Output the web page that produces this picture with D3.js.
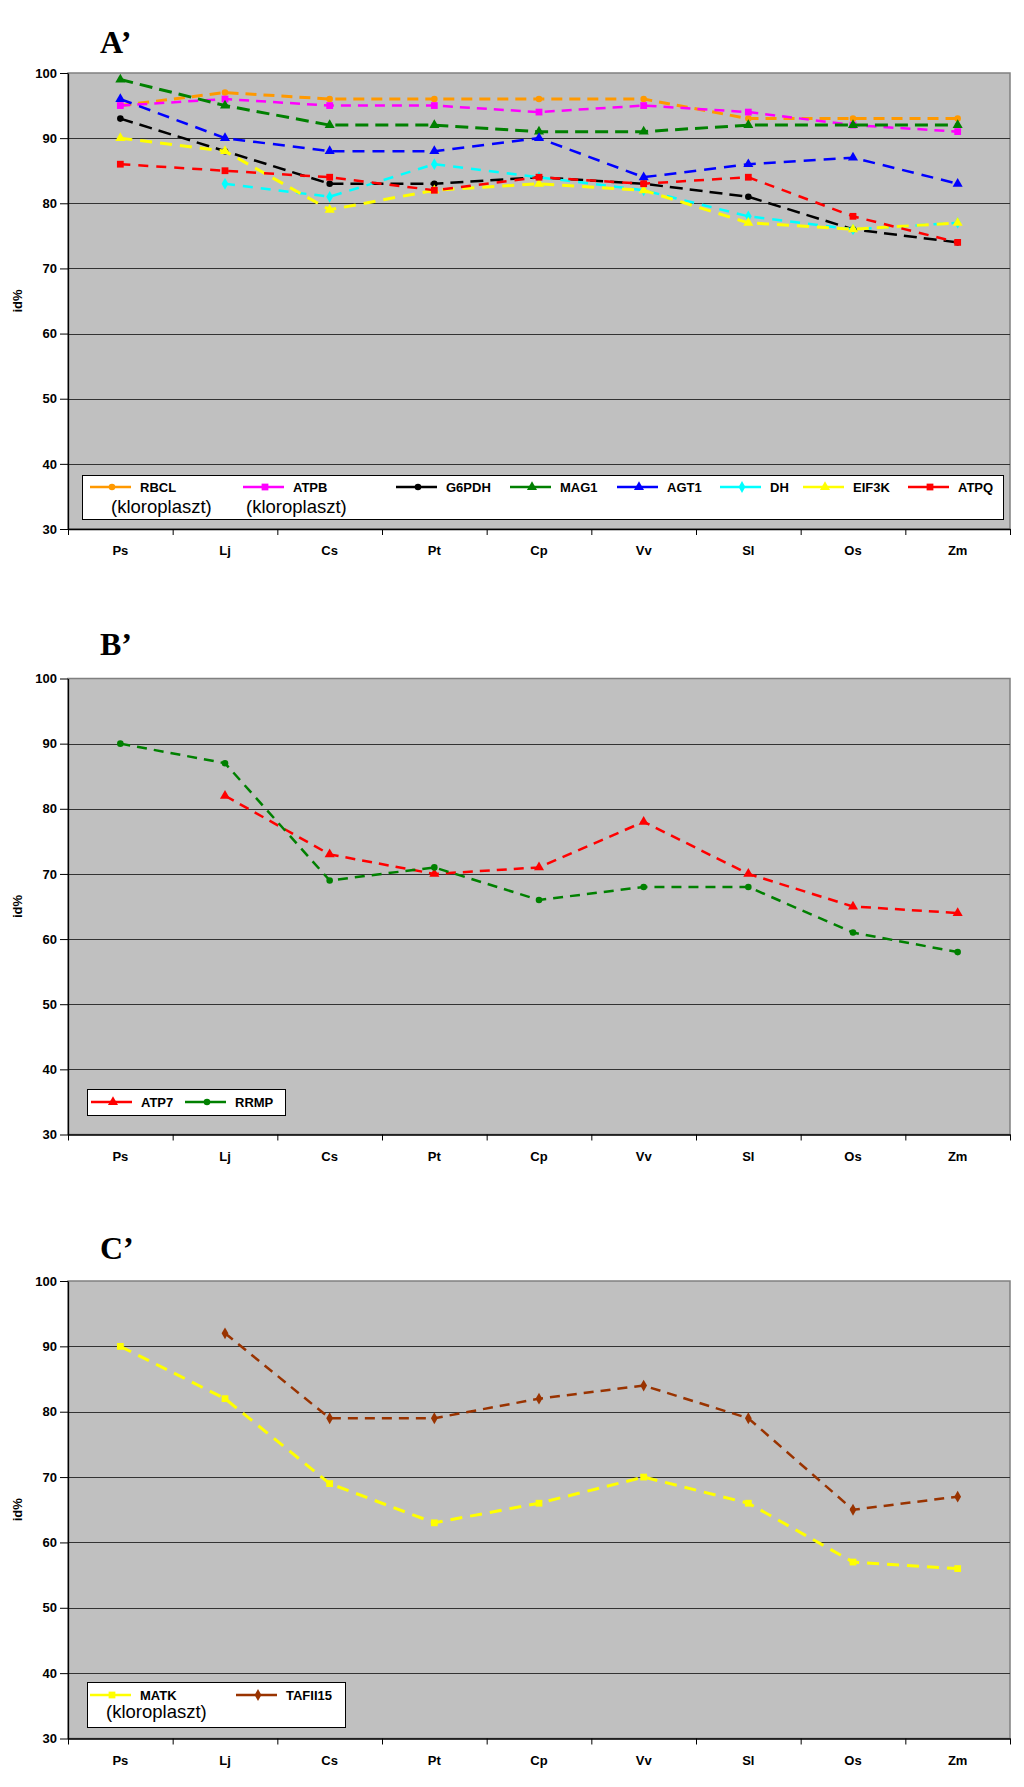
<!DOCTYPE html>
<html>
<head>
<meta charset="utf-8">
<script src="https://cdn.jsdelivr.net/npm/d3@7"></script>
<style>
  html, body { margin: 0; padding: 0; background: #fff; }
  svg { display: block; }
  text { font-family: "Liberation Sans", Arial, sans-serif; }
</style>
</head>
<body>
<svg id="chart" width="1024" height="1787"></svg>
<script>
// ---------------- DATA ----------------
const CATEGORIES = ["Ps", "Lj", "Cs", "Pt", "Cp", "Vv", "Sl", "Os", "Zm"];
const Y_TICKS = [30, 40, 50, 60, 70, 80, 90, 100];
const Y_LABEL = "id%";

// Panel A'
const A_NAMES = ["RBCL", "ATPB", "G6PDH", "MAG1", "AGT1", "DH", "EIF3K", "ATPQ"];
const A_SUBLABELS = ["(kloroplaszt)", "(kloroplaszt)", "", "", "", "", "", ""];
const A_RBCL  = [95, 97, 96, 96, 96, 96, 93, 93, 93];
const A_ATPB  = [95, 96, 95, 95, 94, 95, 94, 92, 91];
const A_G6PDH = [93, 88, 83, 83, 84, 83, 81, 76, 74];
const A_MAG1  = [99, 95, 92, 92, 91, 91, 92, 92, 92];
const A_AGT1  = [96, 90, 88, 88, 90, 84, 86, 87, 83];
const A_DH    = [null, 83, 81, 86, 84, 82, 78, 76, 77];
const A_EIF3K = [90, 88, 79, 82, 83, 82, 77, 76, 77];
const A_ATPQ  = [86, 85, 84, 82, 84, 83, 84, 78, 74];

// Panel B'
const B_NAMES = ["ATP7", "RRMP"];
const B_SUBLABELS = ["", ""];
const B_ATP7 = [null, 82, 73, 70, 71, 78, 70, 65, 64];
const B_RRMP = [90, 87, 69, 71, 66, 68, 68, 61, 58];

// Panel C'
const C_NAMES = ["MATK", "TAFII15"];
const C_SUBLABELS = ["(kloroplaszt)", ""];
const C_MATK    = [90, 82, 69, 63, 66, 70, 66, 57, 56];
const C_TAFII15 = [null, 92, 79, 79, 82, 84, 79, 65, 67];

// ---------------- STYLE / LAYOUT ----------------
const PLOT_LEFT = 68, PLOT_RIGHT = 1010;
const PANELS = [
  {
    title: "A\u2019", titleBase: 53, top: 73, bottom: 529,
    names: A_NAMES, subs: A_SUBLABELS,
    values: [A_RBCL, A_ATPB, A_G6PDH, A_MAG1, A_AGT1, A_DH, A_EIF3K, A_ATPQ],
    colors: ["#FF9900", "#FF00FF", "#000000", "#008000", "#0000FF", "#00FFFF", "#FFFF00", "#FF0000"],
    symbols: ["circle", "square", "circle", "triangle", "triangle", "diamond", "triangle", "square"],
    dashes: ["11,7", "10,7", "13,7", "13,7", "12,8", "10,8", "12,8", "10,8"],
    widths: [3, 2.5, 2.5, 3, 2.5, 2.5, 3, 2.5],
    legend: { x: 82, y: 475, w: 921, h: 44, rowY: 487, subBase: 513,
              entryX: [90, 243, 396, 510, 617, 720, 803, 908], subX: [111, 246] }
  },
  {
    title: "B\u2019", titleBase: 655, top: 678.5, bottom: 1134.5,
    names: B_NAMES, subs: B_SUBLABELS,
    values: [B_ATP7, B_RRMP],
    colors: ["#FF0000", "#008000"],
    symbols: ["triangle", "circle"],
    dashes: ["10,7", "10,7"],
    widths: [2.5, 2.5],
    legend: { x: 87, y: 1089, w: 198, h: 26, rowY: 1102, subBase: 0,
              entryX: [91, 185], subX: [] }
  },
  {
    title: "C\u2019", titleBase: 1259, top: 1281, bottom: 1738.5,
    names: C_NAMES, subs: C_SUBLABELS,
    values: [C_MATK, C_TAFII15],
    colors: ["#FFFF00", "#993300"],
    symbols: ["square", "diamond"],
    dashes: ["12,8", "10,7"],
    widths: [3, 2.5],
    legend: { x: 87, y: 1682, w: 258, h: 45, rowY: 1695, subBase: 1718,
              entryX: [90, 236], subX: [106] }
  }
];

const SYMBOLS = {
  circle: d3.symbol().type(d3.symbolCircle).size(34),
  square: d3.symbol().type(d3.symbolSquare).size(46),
  triangle: d3.symbol().type(d3.symbolTriangle).size(44),
  diamond: d3.symbol().type(d3.symbolDiamond).size(40)
};

const svg = d3.select("#chart");

PANELS.forEach(p => {
  const g = svg.append("g");
  const x = d3.scaleBand().domain(CATEGORIES).range([PLOT_LEFT, PLOT_RIGHT]).padding(0);
  const cx = c => x(c) + x.bandwidth() / 2;
  const y = d3.scaleLinear().domain([30, 100]).range([p.bottom, p.top]);

  // Title
  g.append("text")
    .attr("x", 100).attr("y", p.titleBase)
    .style("font-family", "'Liberation Serif', 'Times New Roman', serif")
    .style("font-weight", "bold").style("font-size", "32px")
    .text(p.title);

  // Plot background
  g.append("rect")
    .attr("x", PLOT_LEFT).attr("y", p.top)
    .attr("width", PLOT_RIGHT - PLOT_LEFT).attr("height", p.bottom - p.top)
    .attr("fill", "#C0C0C0").attr("stroke", "#808080").attr("stroke-width", 1.5);

  // Gridlines
  g.append("g").selectAll("line")
    .data(Y_TICKS.filter(t => t > 30 && t < 100))
    .join("line")
    .attr("x1", PLOT_LEFT).attr("x2", PLOT_RIGHT)
    .attr("y1", d => Math.round(y(d)) + 0.5).attr("y2", d => Math.round(y(d)) + 0.5)
    .attr("stroke", "#333").attr("stroke-width", 1.2);

  // Y axis
  const yAxis = g.append("g")
    .attr("transform", `translate(${PLOT_LEFT},0)`)
    .call(d3.axisLeft(y).tickValues(Y_TICKS).tickSize(8).tickSizeOuter(0).tickPadding(3));
  yAxis.select(".domain").attr("stroke", "#000").attr("stroke-width", 1.3);
  yAxis.selectAll(".tick line").attr("stroke", "#000");
  yAxis.selectAll("text").style("font-size", "13px").style("font-weight", "bold")
    .style("font-family", "'Liberation Sans', Arial, sans-serif").attr("fill", "#000");

  // X axis: boundary ticks
  const xb = d3.scaleLinear().domain([0, CATEGORIES.length]).range([PLOT_LEFT, PLOT_RIGHT]);
  const xTicks = g.append("g")
    .attr("transform", `translate(0,${p.bottom})`)
    .call(d3.axisBottom(xb).tickValues(d3.range(CATEGORIES.length + 1)).tickFormat("").tickSize(6).tickSizeOuter(0));
  xTicks.select(".domain").attr("stroke", "#000").attr("stroke-width", 1.5);
  xTicks.selectAll(".tick line").attr("stroke", "#000");

  // X axis labels
  const xLab = g.append("g")
    .attr("transform", `translate(0,${p.bottom})`)
    .call(d3.axisBottom(x).tickSize(0).tickPadding(17));
  xLab.select(".domain").remove();
  xLab.selectAll("text").style("font-size", "13px").style("font-weight", "bold")
    .style("font-family", "'Liberation Sans', Arial, sans-serif").attr("fill", "#000");

  // Y label
  g.append("text")
    .attr("transform", `translate(22,${(p.top + p.bottom) / 2}) rotate(-90)`)
    .attr("text-anchor", "middle")
    .style("font-size", "13px").style("font-weight", "bold")
    .text(Y_LABEL);

  // Series
  const line = d3.line()
    .defined(d => d.v != null)
    .x(d => cx(d.c)).y(d => y(d.v));

  p.values.forEach((vals, si) => {
    const pts = vals.map((v, i) => ({ c: CATEGORIES[i], v }));
    const sg = g.append("g");
    sg.append("path")
      .datum(pts)
      .attr("d", line)
      .attr("fill", "none")
      .attr("stroke", p.colors[si])
      .attr("stroke-width", p.widths[si])
      .attr("stroke-dasharray", p.dashes[si]);
    sg.selectAll("path.mk")
      .data(pts.filter(d => d.v != null))
      .join("path")
      .attr("class", "mk")
      .attr("transform", d => `translate(${cx(d.c)},${y(d.v)})`)
      .attr("d", SYMBOLS[p.symbols[si]]())
      .attr("fill", p.colors[si]);
  });

  // Legend
  const L = p.legend;
  const lg = g.append("g");
  lg.append("rect")
    .attr("x", L.x + 0.5).attr("y", L.y + 0.5).attr("width", L.w).attr("height", L.h)
    .attr("fill", "#fff").attr("stroke", "#000").attr("stroke-width", 1);
  let subIdx = 0;
  p.names.forEach((name, si) => {
    const ex = L.entryX[si];
    lg.append("line")
      .attr("x1", ex).attr("x2", ex + 41)
      .attr("y1", L.rowY).attr("y2", L.rowY)
      .attr("stroke", p.colors[si]).attr("stroke-width", 2.5);
    lg.append("path")
      .attr("transform", `translate(${ex + 22},${L.rowY})`)
      .attr("d", SYMBOLS[p.symbols[si]]())
      .attr("fill", p.colors[si]);
    lg.append("text")
      .attr("x", ex + 50).attr("y", L.rowY + 4.6)
      .style("font-size", "13px").style("font-weight", "bold")
      .text(name);
    if (p.subs[si]) {
      lg.append("text")
        .attr("x", L.subX[subIdx++]).attr("y", L.subBase)
        .style("font-size", "18.5px")
        .text(p.subs[si]);
    }
  });
});
</script>
</body>
</html>
